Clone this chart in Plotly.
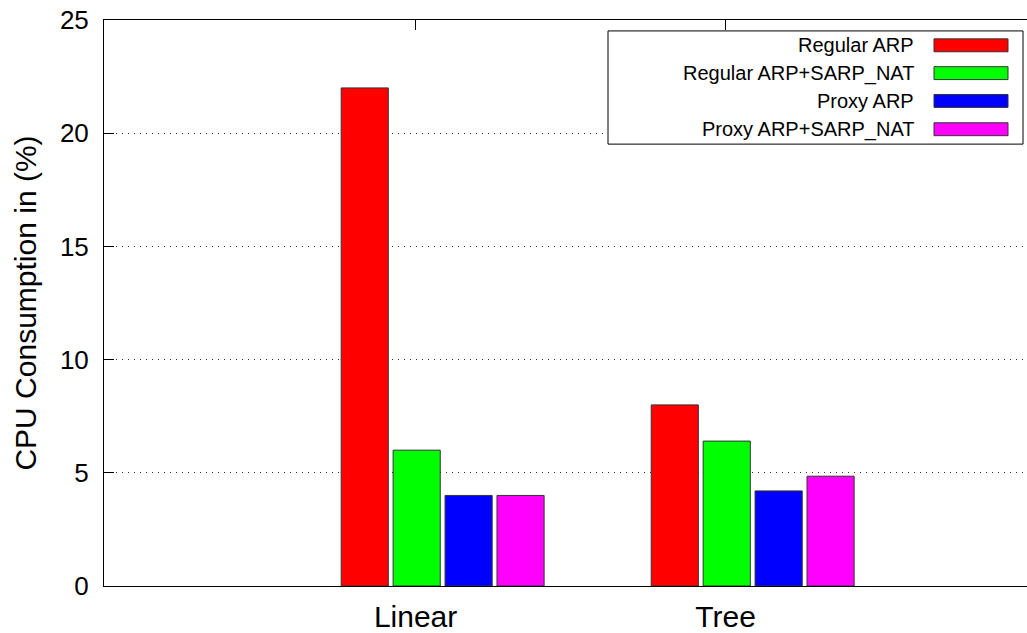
import plotly.graph_objects as go

# Topologies on the x axis and CPU load (%) per ARP scheme
categories = ["Linear", "Tree"]
series_names = ["Regular ARP", "Regular ARP+SARP_NAT", "Proxy ARP", "Proxy ARP+SARP_NAT"]
regular_arp = [22.0, 8.0]
regular_arp_sarp = [6.0, 6.4]
proxy_arp = [4.0, 4.2]
proxy_arp_sarp = [4.0, 4.85]
y_ticks = [0, 5, 10, 15, 20, 25]

series_values = [regular_arp, regular_arp_sarp, proxy_arp, proxy_arp_sarp]
colors = ["#ff0000", "#00ff00", "#0000ff", "#ff00ff"]
offsets = [-0.24, -0.0725, 0.095, 0.2625]
bar_width = 0.152

W, H = 1027, 633
L, R, T, B = 104, 0, 20, 43
FONT = "Liberation Sans, Arial, sans-serif"

fig = go.Figure()
x_pos = list(range(len(categories)))
for name, vals, col, off in zip(series_names, series_values, colors, offsets):
    fig.add_trace(go.Bar(
        x=x_pos, y=vals, name=name, width=bar_width, offset=off,
        marker=dict(color=col, line=dict(color="#333333", width=1)),
        showlegend=False,
    ))

# Legend box drawn in the gnuplot style: right-aligned text, swatch on the right
def px_x(p):
    return (p - L) / (W - L - R)

def px_y(p):
    return (H - B - p) / (H - T - B)

shapes = [dict(type="rect", xref="paper", yref="paper",
               x0=px_x(608), x1=px_x(1023), y0=px_y(145), y1=px_y(31),
               line=dict(color="black", width=1), fillcolor="white", layer="above")]
annotations = []
row_y = [45.5, 73.5, 101.5, 130]
for name, col, ry in zip(series_names, colors, row_y):
    shapes.append(dict(type="rect", xref="paper", yref="paper",
                       x0=px_x(934), x1=px_x(1008), y0=px_y(ry + 6.5), y1=px_y(ry - 6.5),
                       line=dict(color="#333333", width=1), fillcolor=col, layer="above"))
    annotations.append(dict(xref="paper", yref="paper", x=px_x(916), y=px_y(ry),
                            text=name, showarrow=False, xanchor="right", yanchor="middle",
                            font=dict(family=FONT, size=20, color="black")))

fig.update_layout(
    width=W, height=H,
    margin=dict(l=L, r=R, t=T, b=B),
    plot_bgcolor="white", paper_bgcolor="white",
    barmode="overlay",
    shapes=shapes, annotations=annotations,
    xaxis=dict(
        range=[-1.005, 1.972], tickvals=x_pos, ticktext=categories,
        ticks="inside", ticklen=10, tickcolor="black",
        showline=True, linecolor="black", linewidth=1, mirror="ticks",
        showgrid=False, zeroline=False, layer="below traces",
        tickfont=dict(family=FONT, size=30, color="black"),
        ticklabelstandoff=4,
    ),
    yaxis=dict(
        range=[0, 25], tickvals=y_ticks,
        ticks="inside", ticklen=10, tickcolor="black",
        showline=True, linecolor="black", linewidth=1,
        showgrid=True, gridcolor="#333333", griddash="1px,5px", gridwidth=1,
        zeroline=False,
        tickfont=dict(family=FONT, size=26, color="black"),
        ticklabelstandoff=9,
        title=dict(text="CPU Consumption in (%)", standoff=14,
                   font=dict(family=FONT, size=30, color="black")),
    ),
)

fig.write_html("out.html")
